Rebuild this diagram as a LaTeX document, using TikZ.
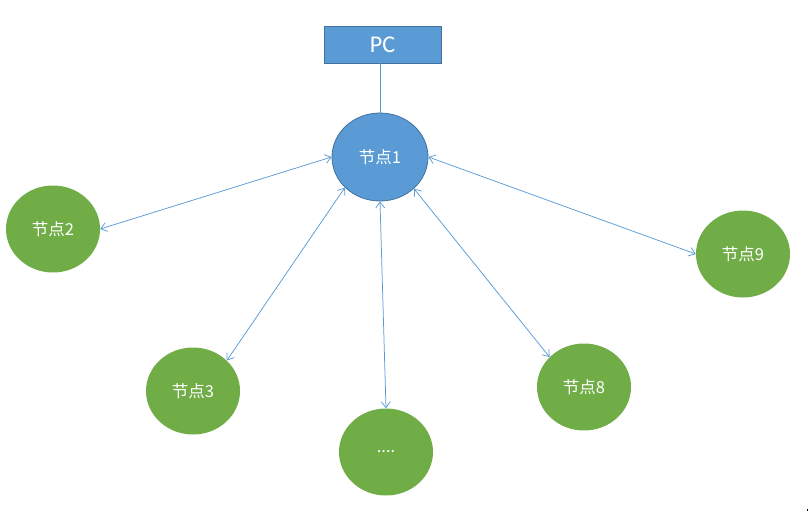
\documentclass[tikz,border=0pt]{standalone}
\usepackage{fontspec}
\newfontfamily\cjk{Noto Sans CJK SC}
\newfontfamily\pcfont{Carlito}
\usetikzlibrary{arrows.meta,shapes.geometric}
\definecolor{blueA}{HTML}{5B9BD5}
\definecolor{blueB}{HTML}{41719C}
\definecolor{greenA}{HTML}{70AD47}
\begin{document}
\begin{tikzpicture}[x=1pt,y=-1pt,
  bluenode/.style={ellipse,fill=blueA,draw=blueB,line width=0.8pt,minimum width=96pt,minimum height=88pt,inner sep=0pt,text=white,font=\cjk\fontsize{16.5}{20}\selectfont},
  greennode/.style={ellipse,fill=greenA,minimum width=94pt,minimum height=87pt,inner sep=0pt,text=white,font=\cjk\fontsize{16.5}{20}\selectfont},
  link/.style={draw=blueA,line width=0.75pt,{Straight Barb[length=6pt,width=9pt]}-{Straight Barb[length=6pt,width=9pt]}}]
\useasboundingbox (0,0) rectangle (809,514);
\node[rectangle,fill=blueA,draw=blueB,line width=0.8pt,minimum width=117pt,minimum height=37pt,inner sep=0pt,text=white,font=\pcfont\fontsize{24}{28}\selectfont] (pc) at (382.5,44.5) {PC};
\node[bluenode] (n1) at (380,157) {节点1};
\node[greennode] (n2) at (53,229) {节点2};
\node[greennode] (n3) at (193,391) {节点3};
\node[greennode] (nd) at (386,452) {....};
\node[greennode] (n8) at (584,387) {节点8};
\node[greennode] (n9) at (743,254) {节点9};
\draw[blueA,line width=0.75pt] (pc.south -| n1.north) -- (n1.north);
\draw[link] (n2.east) -- (n1.west);
\draw[link] (n3.42) -- (n1.221);
\draw[link] (nd.north) -- (n1.south);
\draw[link] (n8.139) -- (n1.317);
\draw[link] (n9.west) -- (n1.east);
\fill (806.5,509) rectangle (808,511);
\end{tikzpicture}
\end{document}
